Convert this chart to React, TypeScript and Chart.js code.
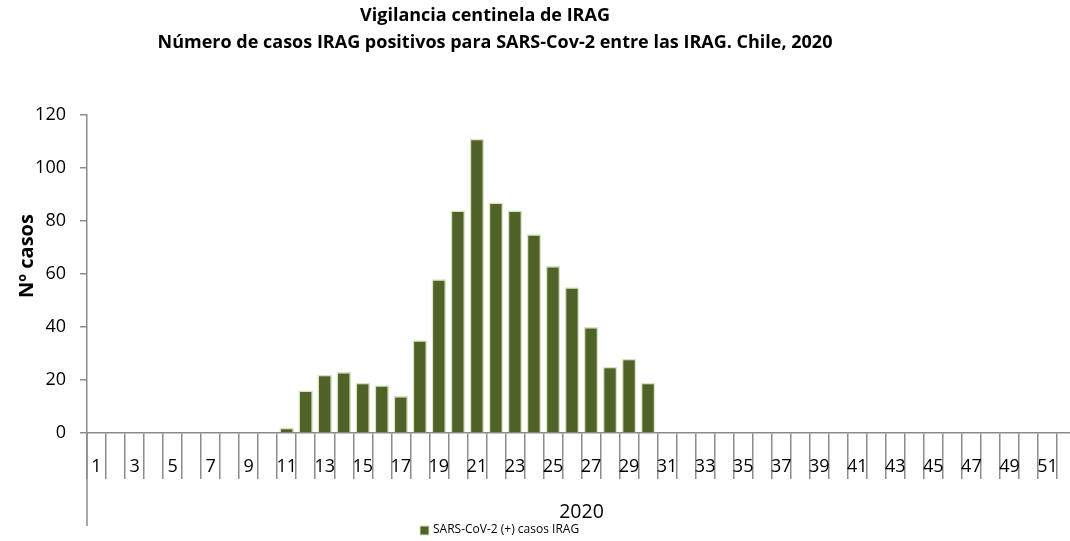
import React, { useEffect, useRef } from "react";
import { Chart, registerables } from "chart.js";

Chart.register(...registerables);

const weeks: string[] = Array.from({ length: 52 }, (_, i) => String(i + 1));
const casos: number[] = [
  0, 0, 0, 0, 0, 0, 0, 0, 0, 0,
  2, 16, 22, 23, 19, 18, 14, 35, 58, 84,
  111, 87, 84, 75, 63, 55, 40, 25, 28, 19,
  0, 0, 0, 0, 0, 0, 0, 0, 0, 0,
  0, 0, 0, 0, 0, 0, 0, 0, 0, 0,
  0, 0,
];
const titleLines: string[] = [
  "Vigilancia centinela de IRAG",
  "Número de casos IRAG positivos para SARS-Cov-2 entre las IRAG. Chile, 2020",
];
const seriesName = "SARS-CoV-2 (+) casos IRAG";
const yTitle = "Nº casos";
const xTitle = "2020";

const FONT = "'Open Sans', 'Noto Sans', sans-serif";
const BAR = "#4f6228";
const BAR_BORDER = "#d7e4bd";
const AXIS = "#8c8c8c";

const decorPlugin = {
  id: "decor",
  afterDraw(chart: any) {
    const { ctx, chartArea } = chart;
    ctx.save();
    ctx.fillStyle = "#000";
    ctx.textAlign = "center";
    ctx.textBaseline = "middle";
    ctx.font = `bold 18px ${FONT}`;
    ctx.fillText(titleLines[0], 485, 16);
    ctx.fillText(titleLines[1], 495, 43);
    // y axis title
    ctx.save();
    ctx.translate(27, 256);
    ctx.rotate(-Math.PI / 2);
    ctx.font = `bold 20px ${FONT}`;
    ctx.fillText(yTitle, 0, 0);
    ctx.restore();
    // y axis continues below the category axis
    ctx.strokeStyle = AXIS;
    ctx.lineWidth = 1.5;
    ctx.beginPath();
    ctx.moveTo(chartArea.left, chartArea.bottom);
    ctx.lineTo(chartArea.left, 526);
    ctx.stroke();
    // legend
    ctx.fillStyle = BAR;
    ctx.fillRect(420, 526, 9, 9);
    ctx.strokeStyle = BAR_BORDER;
    ctx.lineWidth = 1;
    ctx.strokeRect(420, 526, 9, 9);
    ctx.fillStyle = "#000";
    ctx.textAlign = "left";
    ctx.textBaseline = "middle";
    ctx.font = `12px ${FONT}`;
    ctx.fillText(seriesName, 433, 530);
    ctx.restore();
  },
};

export default function App() {
  const ref = useRef<HTMLCanvasElement | null>(null);
  useEffect(() => {
    document.body.style.overflow = "hidden";
    if (!ref.current) return;
    const chart = new Chart(ref.current, {
      type: "bar",
      data: {
        labels: weeks,
        datasets: [
          {
            label: seriesName,
            data: casos,
            backgroundColor: BAR,
            borderColor: BAR_BORDER,
            borderWidth: 1.5,
            barPercentage: 1,
            categoryPercentage: 0.76,
          },
        ],
      },
      options: {
        animation: false,
        responsive: true,
        maintainAspectRatio: false,
        layout: { padding: { top: 115, left: 0, right: 1, bottom: 0 } },
        plugins: {
          legend: { display: false },
          title: { display: false },
          tooltip: { enabled: false },
        },
        scales: {
          x: {
            afterFit: (s: any) => {
              s.height = 108;
            },
            grid: {
              offset: true,
              drawOnChartArea: false,
              drawTicks: true,
              tickLength: 46,
              color: AXIS,
              lineWidth: 1.5,
            },
            border: { display: true, color: AXIS, width: 1.5 },
            ticks: {
              autoSkip: false,
              maxRotation: 0,
              minRotation: 0,
              padding: -23,
              color: "#000",
              font: { family: FONT, size: 18 },
              callback: (_v: any, i: number) => (i % 2 === 0 ? weeks[i] : ""),
            },
            title: {
              display: true,
              text: xTitle,
              color: "#000",
              font: { family: FONT, size: 19.5 },
              padding: { top: 0, bottom: 17 },
            },
          },
          y: {
            min: 0,
            max: 120,
            afterFit: (s: any) => {
              s.width = 87;
            },
            grid: {
              drawOnChartArea: false,
              drawTicks: true,
              tickLength: 7,
              color: AXIS,
              lineWidth: 1.5,
            },
            border: { display: true, color: AXIS, width: 1.5 },
            ticks: {
              stepSize: 20,
              padding: 14,
              color: "#000",
              font: { family: FONT, size: 18 },
            },
            title: { display: false },
          },
        },
      },
      plugins: [decorPlugin],
    });
    return () => chart.destroy();
  }, []);
  return (
    <div style={{ position: "fixed", left: 0, top: 0, width: 1077, height: 541, background: "#fff" }}>
      <canvas ref={ref} />
    </div>
  );
}
